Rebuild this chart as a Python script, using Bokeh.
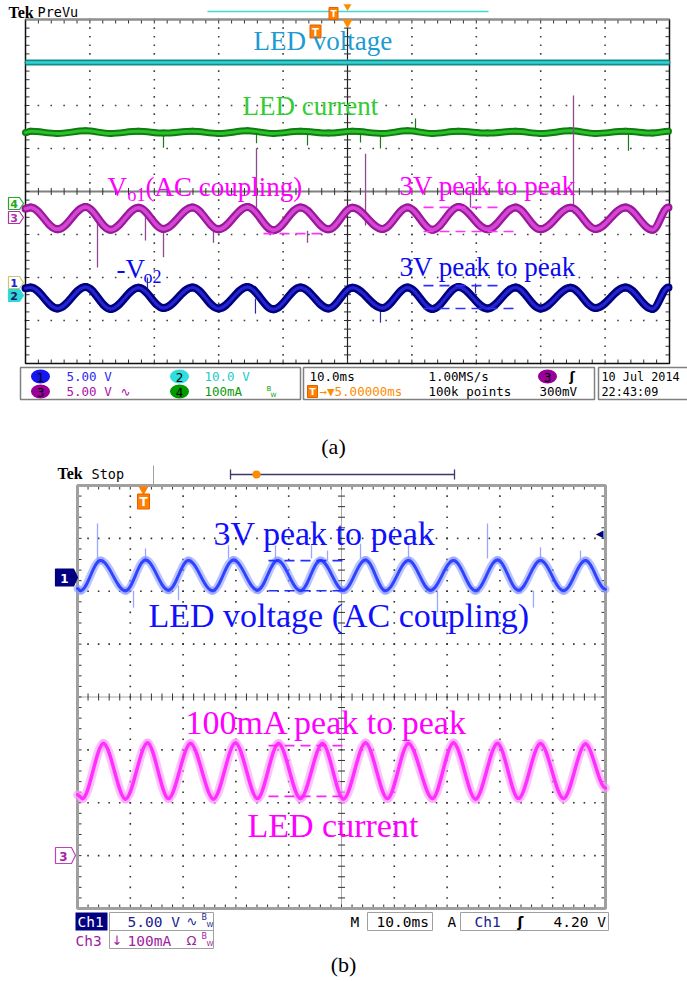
import numpy as np
from bokeh.plotting import figure
from bokeh.models import Range1d, Label
from bokeh.embed import file_html
from bokeh.resources import INLINE

# ===================== data =====================
# Panel (a): 10.0 ms/div, levels in screen divisions (centre line = 0)
# times of successive peaks / troughs
a_t = [0.0, 0.78, 4.97, 9.32, 13.20, 17.55, 21.43, 25.93, 29.97, 34.47, 38.51,
       42.70, 47.05, 50.78, 55.43, 59.32, 63.20, 67.24, 71.74, 76.09, 79.97,
       84.63, 88.51, 93.17, 97.36, 99.84]
a_vo1 = [-0.40, -0.37, -0.88, -0.36, -0.89, -0.38, -0.87, -0.37, -0.88, -0.36, -0.90,
         -0.37, -0.88, -0.38, -0.87, -0.37, -0.89, -0.36, -0.88, -0.37, -0.88,
         -0.38, -0.87, -0.37, -0.89, -0.37]
a_vo2 = [-2.25, -2.23, -2.72, -2.22, -2.73, -2.24, -2.71, -2.23, -2.72, -2.22, -2.74,
         -2.23, -2.72, -2.24, -2.71, -2.23, -2.73, -2.22, -2.72, -2.23, -2.72,
         -2.24, -2.71, -2.23, -2.73, -2.23]
a_led_i = [1.37, 1.40, 1.35, 1.41, 1.35, 1.40, 1.36, 1.40, 1.35, 1.41, 1.35,
           1.40, 1.36, 1.40, 1.35, 1.41, 1.35, 1.40, 1.36, 1.40, 1.35,
           1.41, 1.35, 1.40, 1.36, 1.40]
a_led_v_t = [0.0, 100.0]
a_led_v = [3.0, 3.0]
# glitches (time, from level, to level)
a_g3_t = [35.87, 85.09, 52.80, 11.18, 18.63, 21.43, 43.79, 69.10, 29.19]
a_g3_y0 = [1.00, 2.23, 0.88, -0.51, -0.51, -0.91, -0.91, -0.02, -0.91]
a_g3_y1 = [-0.37, -0.51, -0.79, -1.77, -1.14, -1.53, -1.19, -0.37, -1.19]
a_g1_t = [18.94, 35.71, 55.12, 69.88]
a_g1_y0 = [-2.00, -2.49, -2.70, -2.14]
a_g1_y1 = [-2.35, -2.84, -3.05, -2.37]
a_g4_t = [21.43, 35.87, 43.79, 52.02, 55.12, 60.56, 93.63]
a_g4_y0 = [1.35, 1.35, 1.35, 1.35, 1.35, 1.42, 1.35]
a_g4_y1 = [1.02, 1.12, 1.07, 1.14, 1.00, 1.70, 0.95]
# peak-to-peak marker dashes
a_dash_t0 = [36.96, 61.80, 61.80, 61.80, 61.80]
a_dash_t1 = [46.27, 73.76, 76.09, 73.76, 76.09]
a_dash_y = [-0.98, -0.37, -0.93, -2.19, -2.72]

# Panel (b): 10.0 ms/div
b_t1 = [0.0, 0.57, 4.36, 9.09, 12.88, 17.23, 21.02, 25.57, 29.55, 34.09, 37.88,
        42.23, 46.02, 50.38, 54.55, 58.33, 62.69, 66.86, 71.21, 75.38, 79.55,
        83.52, 87.69, 92.05, 96.21, 100.0]
b_ch1 = [2.05, 2.01, 2.58, 2.01, 2.59, 2.02, 2.58, 2.01, 2.59, 2.02, 2.58,
         2.01, 2.58, 2.02, 2.59, 2.01, 2.58, 2.02, 2.58, 2.01, 2.59,
         2.02, 2.58, 2.01, 2.58, 2.04]
b_t3 = [0.0, 0.95, 4.92, 9.09, 13.26, 17.23, 21.40, 25.76, 29.92, 34.09, 38.07,
        42.23, 46.40, 50.38, 54.55, 58.71, 62.69, 67.23, 71.21, 75.38, 79.55,
        83.52, 87.69, 92.05, 96.21, 100.0]
b_ch3 = [-1.85, -1.92, -0.88, -1.93, -0.87, -1.92, -0.88, -1.93, -0.87, -1.92, -0.88,
         -1.92, -0.88, -1.93, -0.87, -1.92, -0.88, -1.92, -0.87, -1.93, -0.88,
         -1.92, -0.88, -1.92, -0.89, -1.72]
b_g1_t = [3.79, 12.88, 10.61, 19.13, 28.60, 37.50, 44.32, 47.35, 53.60, 62.69,
          68.18, 77.65, 86.36, 87.69, 95.27]
b_g1_y0 = [3.28, 2.81, 2.01, 2.11, 2.87, 2.87, 2.87, 2.77, 2.90, 2.87,
           2.01, 3.28, 2.01, 2.83, 2.77]
b_g1_y1 = [2.58, 2.58, 1.69, 1.83, 2.62, 2.62, 2.62, 2.58, 2.62, 2.58,
           1.60, 2.62, 1.69, 2.58, 2.58]
b_dash_t0 = [36.17, 36.17, 36.17, 36.17]
b_dash_t1 = [51.14, 51.14, 51.14, 51.14]
b_dash_y = [2.58, 2.01, -0.92, -1.88]

# ===================== layout =====================
W, H = 687, 981
X0, Y0 = 0, 0
A_BOX = (25, 669, 19, 363)    # graticule left, right, top, bottom (page px)
B_BOX = (77, 605, 485, 908)
SERIF = "Liberation Serif"
MONO = "DejaVu Sans Mono"
SYM = "DejaVu Sans"


def rng_x(box):
    s = (box[1] - box[0]) / 100.0
    return Range1d(0 - (box[0] - X0) / s, 100 + (X0 + W - box[1]) / s)


def rng_y(box):
    s = (box[3] - box[2]) / 8.0
    return Range1d(-4 - (Y0 + H - box[3]) / s, 4 + (box[2] - Y0) / s)


p = figure(width=W, height=H, x_range=Range1d(X0, X0 + W), y_range=Range1d(Y0 + H, Y0),
           x_axis_type=None, y_axis_type=None, toolbar_location=None,
           output_backend="svg", min_border=0, outline_line_color=None)
p.min_border_left = p.min_border_right = p.min_border_top = p.min_border_bottom = 0
p.extra_x_ranges = {"ax": rng_x(A_BOX), "bx": rng_x(B_BOX)}
p.extra_y_ranges = {"ay": rng_y(A_BOX), "by": rng_y(B_BOX)}


def lab(x, y, text, size, color, font=SERIF, align="left", base="middle", style="normal"):
    p.add_layout(Label(x=x, y=y, text=text, text_font=font, text_font_size=f"{size}px",
                       text_color=color, text_align=align, text_baseline=base,
                       text_font_style=style))


def graticule(xr, yr, box, dot_col, edge_col, edge_w, mode):
    kw = dict(x_range_name=xr, y_range_name=yr)
    sx = (box[1] - box[0]) / 100.0
    sy = (box[3] - box[2]) / 8.0
    minor_x = np.linspace(0, 100, 51)
    minor_y = np.linspace(-4, 4, 41)
    maj_x = [10, 20, 30, 40, 60, 70, 80, 90]
    maj_y = [-3, -2, -1, 1, 2, 3]
    gx = np.concatenate([np.repeat(maj_x, len(minor_y)), np.tile(minor_x, len(maj_y))])
    gy = np.concatenate([np.tile(minor_y, len(maj_x)), np.repeat(maj_y, len(minor_x))])
    p.scatter(gx, gy, marker="square", size=1.6, fill_color=dot_col, line_color=None, **kw)
    if mode == "a":
        p.segment(x0=[0], y0=[0], x1=[100], y1=[0], line_color="#808080", line_width=2, **kw)
        p.segment(x0=[50], y0=[-4], x1=[50], y1=[4], line_color="#202020", line_width=1.2, **kw)
    else:
        p.segment(x0=[0, 50], y0=[0, -4], x1=[100, 50], y1=[0, 4], line_color="#505050",
                  line_width=1, line_dash="1 1", **kw)
    p.scatter(minor_x, np.zeros(51), marker="dash", angle=np.pi / 2, size=7,
              line_color="#303030", line_width=1, **kw)
    p.scatter(np.full(41, 50.0), minor_y, marker="dash", size=7,
              line_color="#303030", line_width=1, **kw)
    tl = 4.0
    p.segment(x0=np.concatenate([minor_x, minor_x]),
              y0=np.concatenate([np.full(51, 4.0), np.full(51, -4.0)]),
              x1=np.concatenate([minor_x, minor_x]),
              y1=np.concatenate([np.full(51, 4 - tl / sy), np.full(51, -4 + tl / sy)]),
              line_color="#303030", line_width=1, **kw)
    p.segment(x0=np.concatenate([np.zeros(41), np.full(41, 100.0)]),
              y0=np.concatenate([minor_y, minor_y]),
              x1=np.concatenate([np.full(41, tl / sx), np.full(41, 100 - tl / sx)]),
              y1=np.concatenate([minor_y, minor_y]),
              line_color="#303030", line_width=1, **kw)
    p.quad(left=[0], right=[100], bottom=[-4], top=[4], fill_color=None,
           line_color=edge_col, line_width=edge_w, **kw)


def bez(t, v, k, xr, yr, **style):
    t = np.asarray(t, dtype=float)
    v = np.asarray(v, dtype=float)
    x0, x1, y0, y1 = t[:-1], t[1:], v[:-1], v[1:]
    d = x1 - x0
    p.bezier(x0=x0, y0=y0, x1=x1, y1=y1, cx0=x0 + k * d, cy0=y0, cx1=x1 - k * d, cy1=y1,
             x_range_name=xr, y_range_name=yr, line_cap="round", **style)


def chmark(xl, yc, num, col, filled, tcol, w=15, h=12, fs=11):
    xs = [xl, xl + w - 4, xl + w, xl + w - 4, xl]
    ys = [yc - h / 2, yc - h / 2, yc, yc + h / 2, yc + h / 2]
    p.patch(xs, ys, fill_color=col if filled else "white", line_color=col, line_width=1.2)
    lab(xl + (w - 4) / 2, yc + 0.5, num, fs, tcol, font=SYM, align="center", style="bold")


def tbox(x, y, w, h):
    p.rect(x=[x], y=[y], width=[w], height=[h], fill_color="#ff8000", line_color="#e06000")
    lab(x, y + 0.5, "T", h - 3, "white", font=SYM, align="center", style="bold")


# ===================== panel (a) =====================
graticule("ax", "ay", A_BOX, "#404040", "#101010", 1.5, "a")
p.segment(x0=[0], y0=[4], x1=[100], y1=[4], line_color="#909090", line_width=2,
          x_range_name="ax", y_range_name="ay")

ka = dict(x_range_name="ax", y_range_name="ay")
# LED voltage (ch2) and LED current (ch4)
p.line(a_led_v_t, a_led_v, line_color="#0f8c8c", line_width=6, **ka)
p.line(a_led_v_t, a_led_v, line_color="#35d2d2", line_width=2.5, **ka)
p.segment(x0=a_g4_t, y0=a_g4_y0, x1=a_g4_t, y1=a_g4_y1, line_color="#1a7a1a", line_width=1.2, **ka)
bez(a_t, a_led_i, 0.363, "ax", "ay", line_color="#137a13", line_width=7)
bez(a_t, a_led_i, 0.363, "ax", "ay", line_color="#27c427", line_width=3)
# Vo1 (ch3) and -Vo2 (ch1)
p.segment(x0=a_g3_t, y0=a_g3_y0, x1=a_g3_t, y1=a_g3_y1, line_color="#904a90", line_width=1.3, **ka)
p.segment(x0=a_g1_t, y0=a_g1_y0, x1=a_g1_t, y1=a_g1_y1, line_color="#2a2aa0", line_width=1.2, **ka)
bez(a_t, a_vo1, 0.363, "ax", "ay", line_color="#9a189a", line_width=8)
bez(a_t, a_vo1, 0.363, "ax", "ay", line_color="#d446d4", line_width=3.5)
bez(a_t, a_vo2, 0.363, "ax", "ay", line_color="#00007e", line_width=8)
bez(a_t, a_vo2, 0.363, "ax", "ay", line_color="#2424d0", line_width=3)
p.segment(x0=a_dash_t0, y0=a_dash_y, x1=a_dash_t1, y1=a_dash_y,
          line_color=["#ff33ff", "#ff33ff", "#ff33ff", "#3030ff", "#3030ff"],
          line_width=1.6, line_dash="10 6", **ka)

# header (a)
lab(8, 12, "Tek", 16, "black", font=SERIF, style="bold")
lab(37, 11, "PreVu", 13.5, "black", font=MONO)
p.segment(x0=[207], y0=[11], x1=[488], y1=[11], line_color="#40d8d8", line_width=1.5)
tbox(333, 13, 9, 12)
p.scatter([347], [6], marker="inverted_triangle", size=8, fill_color="#ff8c00", line_color=None)
p.scatter([347], [22], marker="inverted_triangle", size=10, fill_color="#ff8c00", line_color=None)
tbox(315, 31, 11, 13)

# channel markers (a)
chmark(8, 203, "4", "#22aa22", False, "#22aa22")
chmark(8, 217, "3", "#aa33aa", False, "#aa33aa")
chmark(8, 282, "1", "#c8c870", False, "#2020cc")
chmark(8, 295, "2", "#30d8d8", True, "#102060")

# annotations (a)
lab(253, 40, "LED voltage", 27, "#1e9bd2")
lab(242, 105, "LED current", 27, "#33cc33")
lab(107, 186, "V", 27, "#ff00ff")
lab(127, 194, "o1", 18, "#ff00ff")
lab(145, 186, "(AC coupling)", 27, "#ff00ff")
lab(399, 185, "3V peak to peak", 27, "#ff00ff")
lab(116, 268, "-V", 27, "#0a0aee")
lab(143, 276, "o2", 18, "#0a0aee")
lab(399, 266, "3V peak to peak", 27, "#0a0aee")

# status bar (a)
p.quad(left=[20, 303, 598], right=[300, 594, 700], top=[367, 367, 367], bottom=[399, 399, 399],
       fill_color="white", line_color="#808080", line_width=1.5)
p.ellipse(x=[40, 40, 179, 179, 547], y=[376, 391, 376, 391, 376], width=19, height=14,
          fill_color=["#1515ee", "#990099", "#30dede", "#009a00", "#990099"], line_color=None)
for (cx, cy, n) in [(40, 376, "1"), (40, 391, "3"), (179, 376, "2"), (179, 391, "4"), (547, 376, "3")]:
    lab(cx, cy + 0.5, n, 12, "black", font=SYM, align="center")
lab(66, 376, "5.00 V", 12.5, "#2a2af0", font=MONO)
lab(66, 391, "5.00 V", 12.5, "#aa10aa", font=MONO)
lab(120, 391, "∿", 12, "#aa10aa", font=SYM)
lab(204, 376, "10.0 V", 12.5, "#22caca", font=MONO)
lab(204, 391, "100mA", 12.5, "#0a9a0a", font=MONO)
lab(266, 388, "B", 7, "#0a9a0a", font=SYM)
lab(270, 394, "W", 6, "#0a9a0a", font=SYM)
lab(309, 376, "10.0ms", 12.5, "black", font=MONO)
lab(428, 376, "1.00MS/s", 12.5, "black", font=MONO)
lab(569, 376, "ʃ", 13, "black", font=SYM, style="bold")
tbox(312, 391, 10, 12)
lab(319, 391, "→▼5.00000ms", 12.5, "#ff8c00", font=MONO)
lab(428, 391, "100k points", 12.5, "black", font=MONO)
lab(539, 391, "300mV", 12.5, "black", font=MONO)
lab(601, 376, "10 Jul  2014", 11.8, "black", font=MONO)
lab(601, 391, "22:43:09", 11.8, "black", font=MONO)

lab(333, 446, "(a)", 22, "black", align="center")

# ===================== panel (b) =====================
graticule("bx", "by", B_BOX, "#303030", "#a0a0a0", 3, "b")
kb = dict(x_range_name="bx", y_range_name="by")
p.segment(x0=b_g1_t, y0=b_g1_y0, x1=b_g1_t, y1=b_g1_y1, line_color="#9aa6ff", line_width=1.3, **kb)
bez(b_t1, b_ch1, 0.363, "bx", "by", line_color="#8e9bff", line_width=8, line_alpha=0.6)
bez(b_t1, b_ch1, 0.363, "bx", "by", line_color="#2f44ff", line_width=3)
bez(b_t3, b_ch3, 0.32, "bx", "by", line_color="#ff99ff", line_width=9, line_alpha=0.6)
bez(b_t3, b_ch3, 0.32, "bx", "by", line_color="#ff30ff", line_width=3.5)
p.segment(x0=b_dash_t0, y0=b_dash_y, x1=b_dash_t1, y1=b_dash_y,
          line_color=["#2030ff", "#2030ff", "#ff22ff", "#ff22ff"],
          line_width=1.6, line_dash="10 6", **kb)

# header (b)
lab(57, 473, "Tek", 16, "black", font=SERIF, style="bold")
lab(91, 473, "Stop", 13.5, "black", font=MONO)
p.segment(x0=[153], y0=[465], x1=[153], y1=[484], line_color="#a0a0a0", line_width=1)
p.multi_line(xs=[[230, 230], [230, 454], [454, 454]], ys=[[469, 479], [474, 474], [469, 479]],
             line_color="#3a3a6a", line_width=1.3)
p.scatter([256], [474], marker="circle", size=8, fill_color="#ff8c00", line_color=None)
p.scatter([143], [489], marker="inverted_triangle", size=10, fill_color="#ff8000", line_color=None)
tbox(143, 501, 12, 15)
lab(603, 533, "◀", 10, "#000080", font=SYM, align="right")

chmark(55, 577, "1", "#000080", True, "white", w=22, h=17, fs=12)
chmark(55, 855, "3", "#bb44bb", False, "#aa22aa", w=20, h=16, fs=12)

lab(213, 533, "3V peak to peak", 34, "#1010ff")
lab(148, 615, "LED voltage (AC coupling)", 34, "#1010ff")
lab(185, 722, "100mA peak to peak", 34, "#ff00ff")
lab(247, 825, "LED current", 34, "#ff00ff")

# status bar (b)
p.quad(left=[75], right=[107], top=[912], bottom=[930], fill_color="#000080", line_color=None)
p.quad(left=[109, 109, 367, 460], right=[213, 213, 432, 608], top=[912, 930, 912, 912],
       bottom=[930, 948, 930, 930], fill_color=None, line_color="#a0a0a0", line_width=1)
lab(77, 921, "Ch1", 14.5, "white", font=MONO)
lab(127, 921, "5.00 V", 14.5, "#202090", font=MONO)
lab(186, 921, "∿", 13, "#202090", font=SYM)
lab(201, 917, "B", 8, "#202090", font=SYM)
lab(206, 924, "W", 7, "#202090", font=SYM)
lab(75, 940, "Ch3", 14.5, "#a020a0", font=MONO)
lab(111, 940, "↓", 13, "#a020a0", font=SYM)
lab(127, 940, "100mA", 14.5, "#a020a0", font=MONO)
lab(186, 940, "Ω", 13, "#a020a0", font=SYM)
lab(201, 936, "B", 8, "#a020a0", font=SYM)
lab(206, 943, "W", 7, "#a020a0", font=SYM)
lab(350, 921, "M", 14.5, "black", font=MONO)
lab(376, 921, "10.0ms", 14.5, "black", font=MONO)
lab(447, 921, "A", 14.5, "black", font=MONO)
lab(474, 921, "Ch1", 14.5, "#202090", font=MONO)
lab(517, 921, "ʃ", 14, "black", font=SYM, style="bold")
lab(553, 921, "4.20 V", 14.5, "black", font=MONO)

lab(343, 964, "(b)", 22, "black", align="center")

open("out.html", "w").write(file_html(p, INLINE))
